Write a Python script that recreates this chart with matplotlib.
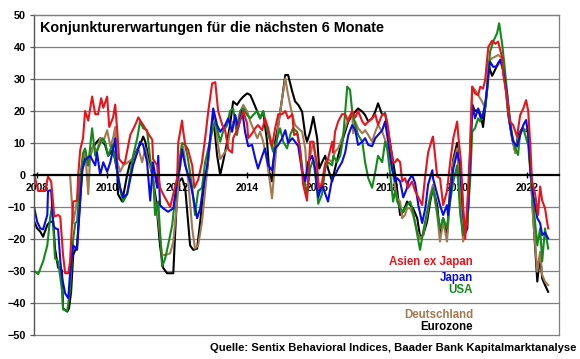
import matplotlib
matplotlib.use("Agg")
import matplotlib.pyplot as plt

plt.rcParams['font.family'] = ['Liberation Sans', 'DejaVu Sans']
plt.rcParams['font.weight'] = 'bold'

# Zeitachse in Dezimaljahren, Werte = Sentix-Erwartungskomponente
asien_ex_japan = [
    (2007.92, 0), (2008.03, -5), (2008.23, -5), (2008.31, -0.5), (2008.40, -2),
    (2008.49, -13), (2008.60, -12.5), (2008.66, -13), (2008.74, -25), (2008.80, -30.7),
    (2008.89, -30.7), (2008.94, -27), (2009.03, -8.3), (2009.14, -8), (2009.17, -0.5),
    (2009.23, 7.8), (2009.31, 11.5), (2009.37, 20), (2009.46, 17), (2009.57, 24.5),
    (2009.66, 19), (2009.74, 19), (2009.83, 24), (2009.89, 21), (2010.00, 24.5),
    (2010.06, 15), (2010.17, 18), (2010.23, 22), (2010.29, 13.5), (2010.34, 5),
    (2010.46, 3.5), (2010.51, 4), (2010.66, 12.5), (2010.80, 15.6), (2010.89, 18),
    (2011.03, 15.6), (2011.17, 13), (2011.29, 11), (2011.31, 5), (2011.43, 3),
    (2011.51, -4), (2011.60, -6), (2011.80, -10), (2011.89, -6), (2012.00, -1),
    (2012.03, 10), (2012.14, 17), (2012.17, 14), (2012.23, 9.4), (2012.31, 8),
    (2012.43, 3), (2012.49, -4), (2012.60, -1.5), (2012.71, 4), (2012.80, 11.5),
    (2012.89, 20), (2013.00, 28.6), (2013.09, 29), (2013.17, 20), (2013.29, 15.6),
    (2013.37, 14), (2013.46, 8), (2013.57, 7), (2013.60, 11.5), (2013.71, 14),
    (2013.86, 19), (2013.89, 20), (2014.00, 16), (2014.03, 11.5), (2014.14, 13),
    (2014.23, 14.6), (2014.31, 15.6), (2014.43, 14), (2014.51, 17.7), (2014.60, 14.6),
    (2014.71, 9), (2014.80, 14.6), (2014.89, 19), (2015.00, 19), (2015.09, 20),
    (2015.17, 17.7), (2015.29, 19), (2015.34, 12.5), (2015.43, 13), (2015.51, 8.3),
    (2015.60, -3), (2015.71, -8), (2015.80, 10.4), (2015.89, 10.4), (2016.00, 3),
    (2016.03, -4), (2016.14, -3), (2016.23, 3), (2016.31, 5), (2016.43, 10.4),
    (2016.46, 7), (2016.51, 13.5), (2016.60, 16.7), (2016.71, 19), (2016.80, 19),
    (2016.89, 16.7), (2017.00, 20), (2017.09, 18), (2017.17, 20), (2017.29, 16.7),
    (2017.37, 15.6), (2017.46, 16.7), (2017.57, 17.7), (2017.66, 19), (2017.74, 15.6),
    (2017.86, 19), (2017.94, 19), (2018.00, 16.7), (2018.09, 9.4), (2018.17, 4),
    (2018.23, 4), (2018.29, 5), (2018.37, 4), (2018.43, -2), (2018.51, -1),
    (2018.60, -4), (2018.71, -2), (2018.80, -5), (2018.89, -7), (2019.00, -9.4),
    (2019.09, 0), (2019.17, 7), (2019.29, 11.5), (2019.31, 12), (2019.37, 6),
    (2019.43, -0.5), (2019.51, -1), (2019.60, -9.4), (2019.71, -5), (2019.80, 4),
    (2019.89, 11.5), (2020.00, 16.7), (2020.03, 12.5), (2020.11, 4), (2020.17, -9.4),
    (2020.23, -20), (2020.31, -5), (2020.37, 8.3), (2020.43, 27.6), (2020.51, 25.5),
    (2020.60, 25), (2020.66, 27.6), (2020.74, 27), (2020.80, 29.7), (2020.89, 40),
    (2021.00, 42), (2021.09, 41), (2021.17, 41.7), (2021.29, 36.5), (2021.31, 31.8),
    (2021.43, 24), (2021.51, 16.7), (2021.60, 15.6), (2021.71, 12), (2021.80, 18.7),
    (2021.89, 20.8), (2021.97, 23.4), (2022.03, 20), (2022.09, 9.4), (2022.14, -2),
    (2022.23, -6), (2022.31, -12.5), (2022.37, -3.6), (2022.43, -8), (2022.51, -10.4),
    (2022.60, -16.7),
]

japan = [
    (2007.92, -10.4), (2008.00, -14.6), (2008.09, -16.7), (2008.17, -17), (2008.29, -12.5),
    (2008.31, -5), (2008.40, -4.7), (2008.46, -15.6), (2008.51, -16.6), (2008.60, -17),
    (2008.66, -26.6), (2008.71, -32), (2008.80, -37), (2008.89, -38.5), (2008.94, -30.7),
    (2009.03, -22), (2009.14, -23.4), (2009.23, -8), (2009.29, 1.6), (2009.37, 4.7),
    (2009.51, 6), (2009.66, 3), (2009.71, 7), (2009.80, 0), (2009.89, 4),
    (2010.00, 1), (2010.09, 4), (2010.17, 8), (2010.23, 11.5), (2010.29, 1),
    (2010.37, -4), (2010.46, -7), (2010.57, -6), (2010.74, 3), (2010.86, 7),
    (2010.94, 10.4), (2011.03, 9.4), (2011.14, 4), (2011.23, -8), (2011.31, 4),
    (2011.43, -4), (2011.46, 6), (2011.51, -9.4), (2011.60, -10.4), (2011.74, -11.5),
    (2011.89, -10.4), (2012.00, -2), (2012.09, 3), (2012.14, 8), (2012.23, 3),
    (2012.37, -2), (2012.46, -7), (2012.57, -13.5), (2012.66, -10.4), (2012.74, -4),
    (2012.86, 3), (2012.94, 11.5), (2013.03, 20.8), (2013.14, 15.6), (2013.23, 13.5),
    (2013.37, 15.6), (2013.46, 17.7), (2013.57, 13.5), (2013.66, 18.75), (2013.74, 14.6),
    (2013.86, 20), (2013.94, 13.5), (2014.03, 9), (2014.14, 9.4), (2014.23, 5.2),
    (2014.31, 2), (2014.43, 6), (2014.51, 8.3), (2014.60, 3), (2014.71, 1.5),
    (2014.80, 8.3), (2014.89, 9.4), (2015.00, 11.5), (2015.09, 14), (2015.17, 10),
    (2015.29, 11.5), (2015.37, 10.4), (2015.46, 9), (2015.57, 1), (2015.66, -2),
    (2015.74, 4), (2015.86, 6), (2015.94, 2), (2016.03, -7), (2016.14, -3),
    (2016.31, -8.3), (2016.43, -1), (2016.51, 0), (2016.60, 2), (2016.71, 4),
    (2016.80, 7), (2016.89, 12.5), (2017.00, 15.6), (2017.09, 14), (2017.17, 9.4),
    (2017.29, 10.4), (2017.37, 11.5), (2017.46, 9.4), (2017.57, 9), (2017.66, 11.5),
    (2017.74, 12.5), (2017.86, 14), (2017.94, 16.7), (2018.03, 10.4), (2018.14, 2),
    (2018.23, -2), (2018.29, -1), (2018.37, -2), (2018.46, -7), (2018.57, -4),
    (2018.60, -2), (2018.71, 0), (2018.80, -2.6), (2018.89, -9.4), (2019.00, -15),
    (2019.09, -10.4), (2019.17, -3), (2019.29, 1.5), (2019.31, -1), (2019.51, -9.4),
    (2019.60, -12.5), (2019.71, -9.4), (2019.74, -12.5), (2019.89, 2), (2020.00, 7),
    (2020.09, 3), (2020.17, -12), (2020.23, -18), (2020.31, -10), (2020.37, 5),
    (2020.43, 22), (2020.51, 17.7), (2020.60, 20.8), (2020.71, 17.7), (2020.80, 22),
    (2020.94, 35.4), (2021.03, 33.8), (2021.14, 34), (2021.23, 36), (2021.31, 32.8),
    (2021.43, 25), (2021.51, 15.6), (2021.60, 10.4), (2021.71, 9), (2021.80, 12.5),
    (2021.89, 15.6), (2021.97, 17.2), (2022.03, 12.5), (2022.09, 2), (2022.17, -6),
    (2022.29, -13.5), (2022.37, -15), (2022.43, -18.75), (2022.51, -18), (2022.60, -19.8),
]

usa = [
    (2007.92, -30), (2008.03, -31), (2008.17, -27), (2008.29, -22), (2008.37, -13.5),
    (2008.43, -9.4), (2008.51, -26), (2008.60, -27), (2008.71, -36), (2008.74, -42),
    (2008.86, -42.5), (2008.94, -36), (2009.03, -20), (2009.09, -15), (2009.14, -14.6),
    (2009.23, -1.5), (2009.31, 6.8), (2009.37, 8.3), (2009.46, 3), (2009.57, 14.6),
    (2009.66, 6), (2009.74, 8.3), (2009.86, 11.5), (2009.94, 10.4), (2010.03, 6),
    (2010.14, 9.4), (2010.23, 5), (2010.29, 1), (2010.40, -6), (2010.46, -8.3),
    (2010.57, -6), (2010.66, 0), (2010.74, 6), (2010.86, 11.5), (2010.94, 16.7),
    (2011.03, 14.6), (2011.14, 14), (2011.23, 5), (2011.31, 0), (2011.37, -12.5),
    (2011.46, -8.3), (2011.57, -28.6), (2011.66, -26), (2011.74, -22), (2011.86, -15.6),
    (2011.94, -7), (2012.03, 2), (2012.14, 10), (2012.23, 9.4), (2012.31, 5),
    (2012.43, -4), (2012.51, -12.5), (2012.60, -5), (2012.71, -4), (2012.80, 4),
    (2012.89, 8.3), (2013.00, 13.5), (2013.09, 16.7), (2013.14, 14.6), (2013.23, 10.4),
    (2013.31, 13.5), (2013.43, 15.6), (2013.51, 20), (2013.60, 20.8), (2013.71, 12.5),
    (2013.80, 20), (2013.89, 20.8), (2014.00, 18.75), (2014.09, 17.7), (2014.17, 18.75),
    (2014.29, 20), (2014.37, 17.7), (2014.46, 20), (2014.57, 14), (2014.74, 7.3),
    (2014.86, 11.5), (2014.94, 14.6), (2015.03, 10.4), (2015.14, 8.3), (2015.23, 12.5),
    (2015.31, 14.6), (2015.43, 13.5), (2015.51, 8), (2015.60, 0), (2015.71, -6),
    (2015.80, 2), (2015.89, 5), (2016.00, -5), (2016.03, -9), (2016.14, -6),
    (2016.23, 2), (2016.31, 4), (2016.43, 3), (2016.46, 6), (2016.57, 4),
    (2016.66, 6), (2016.74, 11.5), (2016.86, 27.6), (2016.94, 26.6), (2017.00, 20),
    (2017.09, 15.6), (2017.17, 12.5), (2017.29, 10.4), (2017.37, 4), (2017.46, -1),
    (2017.57, -4), (2017.66, 1), (2017.74, 6), (2017.86, 4), (2017.94, 10.4),
    (2018.00, 8.3), (2018.09, 0), (2018.17, -8.3), (2018.23, -5), (2018.29, -8.3),
    (2018.37, -10.4), (2018.46, -11.5), (2018.57, -9.4), (2018.66, -8.3), (2018.74, -11.5),
    (2018.86, -18.75), (2018.94, -23.4), (2019.03, -17.7), (2019.14, -11.5), (2019.23, -7.3),
    (2019.31, -4), (2019.43, -11.5), (2019.51, -16.7), (2019.60, -13.5), (2019.71, -16.7),
    (2019.80, -8.3), (2019.89, -2), (2020.00, 3), (2020.09, -12.5), (2020.17, -18.75),
    (2020.29, -14.6), (2020.37, -2), (2020.43, 13.5), (2020.51, 14.6), (2020.60, 17.7),
    (2020.66, 16.7), (2020.80, 20.8), (2020.86, 27), (2020.94, 38.5), (2021.03, 41.7),
    (2021.14, 44.3), (2021.20, 47.4), (2021.29, 40.6), (2021.37, 32.3), (2021.46, 21.9),
    (2021.57, 12.5), (2021.66, 8.3), (2021.74, 6.25), (2021.80, 13.5), (2021.89, 14.6),
    (2022.00, 10.4), (2022.03, 9.4), (2022.09, 1), (2022.17, -8.3), (2022.29, -22),
    (2022.37, -16.7), (2022.43, -27), (2022.51, -16.7), (2022.60, -23),
]

eurozone = [
    (2007.92, -14.6), (2008.00, -16.7), (2008.09, -17.7), (2008.17, -19.3), (2008.29, -15.6),
    (2008.37, -14.6), (2008.46, -14.6), (2008.51, -23), (2008.60, -29), (2008.66, -29),
    (2008.71, -30), (2008.74, -41.7), (2008.86, -42.7), (2008.91, -41.7), (2008.97, -36.5),
    (2009.03, -25), (2009.14, -22), (2009.29, 2), (2009.37, 6), (2009.46, 3),
    (2009.57, 8.3), (2009.71, 10.4), (2009.80, 11.5), (2009.94, 9.4), (2010.03, 6),
    (2010.17, 8), (2010.29, 1), (2010.31, -6), (2010.43, -8.3), (2010.57, 0),
    (2010.66, 4), (2010.74, 5), (2010.86, 8), (2010.94, 9.4), (2011.03, 12),
    (2011.09, 10.4), (2011.17, 6), (2011.29, 0), (2011.40, -8), (2011.51, -22),
    (2011.60, -29), (2011.71, -30.7), (2011.89, -30.7), (2011.94, -18.75), (2012.00, -6),
    (2012.06, -2), (2012.14, -1), (2012.23, -4), (2012.37, -22), (2012.46, -23.4),
    (2012.57, -23), (2012.66, -14.6), (2012.74, -6), (2012.86, 2), (2012.94, 10.4),
    (2013.03, 18.75), (2013.14, 6.25), (2013.23, 0), (2013.31, 4), (2013.43, 10.4),
    (2013.51, 15.6), (2013.60, 23), (2013.71, 21.9), (2013.80, 23.4), (2013.89, 24.5),
    (2014.00, 25.5), (2014.09, 25), (2014.17, 23), (2014.29, 19.8), (2014.37, 17.7),
    (2014.46, 19.8), (2014.57, 10.4), (2014.63, 1), (2014.71, -2), (2014.80, 10.4),
    (2014.89, 15.6), (2015.00, 24), (2015.09, 31.25), (2015.17, 31.25), (2015.29, 26),
    (2015.37, 23), (2015.46, 21.9), (2015.57, 19.8), (2015.66, 12.5), (2015.71, 10.4),
    (2015.80, 13.5), (2015.89, 18.2), (2016.00, 11.5), (2016.06, 2), (2016.14, 4),
    (2016.23, 6), (2016.31, 2), (2016.43, -2), (2016.51, 2), (2016.60, 6),
    (2016.71, 10.4), (2016.80, 13.5), (2016.89, 16.7), (2017.00, 18.75), (2017.09, 19.8),
    (2017.17, 20.8), (2017.29, 19.8), (2017.37, 18.75), (2017.46, 16.7), (2017.57, 17.7),
    (2017.66, 19.8), (2017.74, 22.4), (2017.86, 18.75), (2017.94, 19.3), (2018.03, 13.5),
    (2018.14, 6), (2018.23, 0), (2018.29, -5), (2018.37, -12.5), (2018.46, -11.5),
    (2018.57, -8.3), (2018.66, -9.4), (2018.74, -10.4), (2018.86, -13.5), (2018.94, -19.3),
    (2019.03, -18.75), (2019.14, -14.6), (2019.23, -8.3), (2019.31, -4), (2019.43, -9.4),
    (2019.51, -18.75), (2019.60, -13.5), (2019.71, -18.75), (2019.80, -4), (2019.89, 5),
    (2020.00, 10), (2020.03, 5), (2020.14, -12.5), (2020.17, -19.8), (2020.29, -16.7),
    (2020.37, 4), (2020.43, 22), (2020.51, 20), (2020.60, 20.3), (2020.71, 16.7),
    (2020.74, 15), (2020.86, 27), (2020.89, 34.4), (2021.00, 31), (2021.09, 33),
    (2021.17, 35), (2021.29, 36.5), (2021.37, 29), (2021.46, 18.75), (2021.57, 11.5),
    (2021.66, 7.3), (2021.74, 12.5), (2021.86, 14.6), (2021.94, 14), (2022.03, 13.5),
    (2022.09, 3), (2022.17, -12.5), (2022.29, -33.3), (2022.37, -25), (2022.43, -32.3),
    (2022.51, -34.4), (2022.60, -36.5),
]

deutschland = [
    (2007.92, 0), (2008.94, 0), (2009.03, -15), (2009.11, -10), (2009.20, -3),
    (2009.29, 4), (2009.37, 8), (2009.46, -6), (2009.51, 5), (2009.60, 9.4),
    (2009.71, 7.3), (2009.80, 11.5), (2009.89, 10.4), (2010.00, 14), (2010.09, 9),
    (2010.17, 11.5), (2010.23, 15), (2010.29, 4), (2010.37, 1), (2010.46, 3),
    (2010.60, 4), (2010.71, 5), (2010.80, 6), (2010.89, 8.3), (2011.00, 4),
    (2011.09, 8.3), (2011.17, 4), (2011.29, 1), (2011.37, -8.3), (2011.46, -13.5),
    (2011.57, -25), (2011.66, -25), (2011.80, -24.5), (2011.89, -20.8), (2012.00, -8.3),
    (2012.09, 5), (2012.17, 9), (2012.23, 4), (2012.31, -1), (2012.43, -16.7),
    (2012.51, -23), (2012.60, -22), (2012.71, -14.6), (2012.80, -5), (2012.89, 5),
    (2013.00, 15.6), (2013.09, 17.7), (2013.14, 11.5), (2013.23, 5), (2013.31, 6.25),
    (2013.43, 8.3), (2013.51, 13.5), (2013.60, 16.7), (2013.71, 15.6), (2013.80, 19.8),
    (2013.89, 21.9), (2014.00, 19.8), (2014.09, 16.7), (2014.17, 14.6), (2014.29, 11.5),
    (2014.37, 13.5), (2014.46, 10.4), (2014.57, 4), (2014.66, -3), (2014.71, -7.3),
    (2014.80, 4), (2014.89, 15.6), (2015.00, 24), (2015.09, 30.2), (2015.17, 25),
    (2015.29, 18.75), (2015.37, 15.6), (2015.46, 14.6), (2015.57, 13.5), (2015.66, 8.3),
    (2015.71, 0), (2015.80, 6), (2015.89, 10.4), (2016.00, 1), (2016.06, -4),
    (2016.14, -2), (2016.23, 4), (2016.31, 5), (2016.43, 4), (2016.51, 7.3),
    (2016.60, 8.3), (2016.71, 11.5), (2016.80, 14.6), (2016.89, 17.7), (2017.00, 19.8),
    (2017.03, 13), (2017.09, 16.7), (2017.17, 14.6), (2017.29, 13), (2017.37, 14),
    (2017.46, 12.5), (2017.57, 10.4), (2017.66, 13.5), (2017.74, 15.6), (2017.86, 13.5),
    (2017.94, 11), (2018.03, 8.3), (2018.14, 2), (2018.23, -4), (2018.29, -7.3),
    (2018.37, -8.3), (2018.43, -13.5), (2018.51, -12.5), (2018.57, -10.4), (2018.66, -10.4),
    (2018.74, -12.5), (2018.86, -17.7), (2018.94, -19.8), (2019.03, -18.75), (2019.14, -12.5),
    (2019.23, -6.25), (2019.31, -3), (2019.43, -12.5), (2019.51, -20.8), (2019.60, -14.6),
    (2019.71, -20.8), (2019.80, -6.25), (2019.89, 4), (2020.00, 8.3), (2020.03, 3),
    (2020.14, -14.6), (2020.17, -20.8), (2020.29, -14.6), (2020.37, 8.3), (2020.43, 27.6),
    (2020.51, 26.6), (2020.60, 25), (2020.71, 23), (2020.80, 20.8), (2020.86, 28),
    (2020.89, 35.4), (2021.00, 36.5), (2021.09, 37), (2021.17, 37.5), (2021.29, 36.5),
    (2021.37, 29), (2021.46, 19.8), (2021.57, 11.5), (2021.66, 6.8), (2021.74, 11.5),
    (2021.86, 14), (2021.94, 14), (2022.03, 14.6), (2022.09, 3), (2022.17, -13.5),
    (2022.29, -30.2), (2022.37, -24), (2022.43, -31.25), (2022.51, -33.3), (2022.60, -34.4),
]

jahre = list(range(2008, 2023, 2))
y_ticks = list(range(-50, 51, 10))

# Reihenfolge = Zeichenreihenfolge (unten -> oben)
reihen = [
    ("Eurozone", eurozone, "#000000"),
    ("Deutschland", deutschland, "#a07a50"),
    ("USA", usa, "#12891a"),
    ("Japan", japan, "#0a0ae6"),
    ("Asien ex Japan", asien_ex_japan, "#e8141c"),
]

fig = plt.figure(figsize=(5.8, 3.59), dpi=100)
ax = fig.add_axes([34/580, 1-335/359, 525/580, 320/359])

for name, daten, farbe in reihen:
    x = [d[0] for d in daten]
    y = [d[1] for d in daten]
    ax.plot(x, y, color=farbe, lw=1.5, solid_joinstyle='round')

ax.set_xlim(2007.91, 2022.91)
ax.set_ylim(-50, 50)
ax.set_yticks(y_ticks)
ax.set_xticks(jahre)
ax.set_xticklabels([str(j) for j in jahre])

for yv in y_ticks:
    if yv != 0:
        ax.axhline(yv, color='#7f7f7f', lw=0.9, zorder=0, clip_on=False)

ax.spines['bottom'].set_position(('data', 0))
ax.spines['bottom'].set_linewidth(1.6)
ax.spines['bottom'].set_color('black')
ax.spines['left'].set_color('#555555')
ax.spines['left'].set_linewidth(1.0)
ax.spines['top'].set_color('#7f7f7f')
ax.spines['right'].set_color('#7f7f7f')
ax.spines['top'].set_linewidth(0.9)
ax.spines['right'].set_linewidth(0.9)

ax.tick_params(axis='y', length=3, width=0.9, color='#555555', pad=3, labelsize=7.8)
ax.tick_params(axis='x', direction='inout', length=4, width=1, pad=4, labelsize=7.5)
for lab in ax.get_xticklabels() + ax.get_yticklabels():
    lab.set_fontweight('bold')

fig.text(40/580, 1-32/359, "Konjunkturerwartungen für die nächsten 6 Monate",
         fontsize=10.4, fontweight='bold', ha='left', va='baseline')

legenden_y = [262, 278, 290, 315, 327]
legenden = [("Asien ex Japan", "#e8141c"), ("Japan", "#0a0ae6"), ("USA", "#12891a"),
            ("Deutschland", "#a07a50"), ("Eurozone", "#000000")]
for (txt, farbe), py in zip(legenden, legenden_y):
    fig.text(473/580, 1-py/359, txt, color=farbe, fontsize=8.3, fontweight='bold',
             ha='right', va='center')

fig.text(576/580, 1-351/359, "Quelle: Sentix Behavioral Indices, Baader Bank Kapitalmarktanalyse",
         fontsize=8.1, fontweight='bold', ha='right', va='baseline')

fig.savefig("out.png", dpi=100)
